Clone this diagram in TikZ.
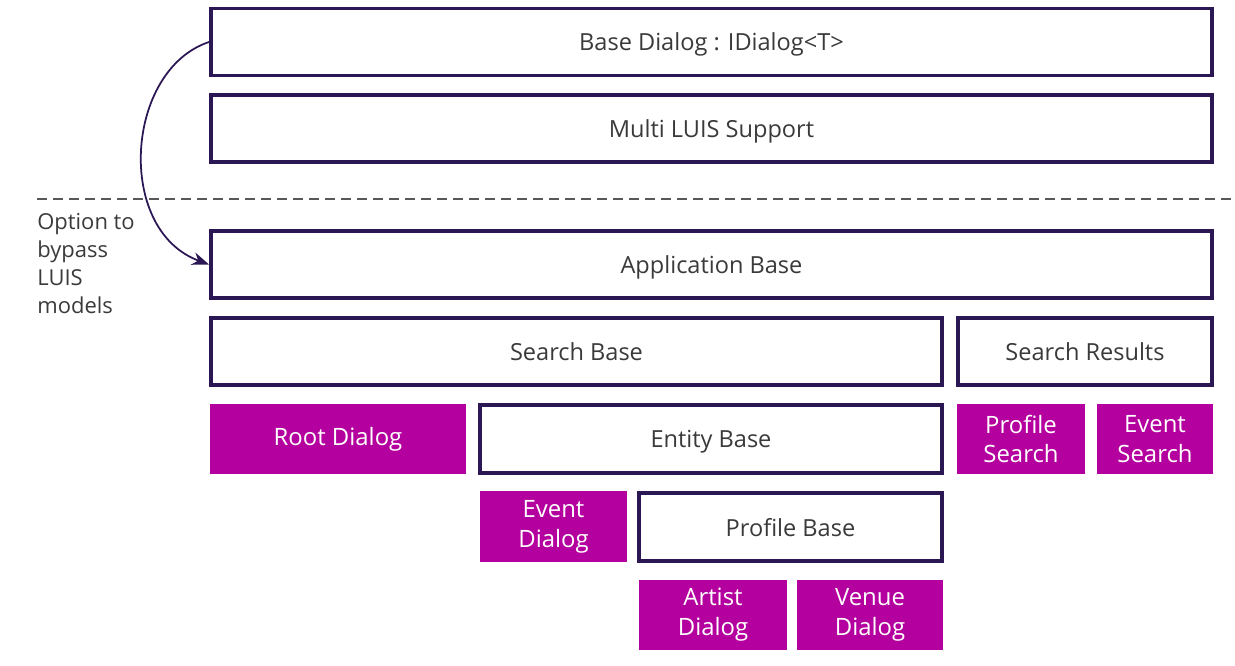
\documentclass[tikz,border=0pt]{standalone}
\usepackage{fontspec}
\setmainfont{Open Sans}
\usepackage{tikz}
\usetikzlibrary{arrows.meta}
\definecolor{layerline}{HTML}{2B1754}
\definecolor{dialogfill}{HTML}{B4009E}
\definecolor{labeltext}{HTML}{3A3A3A}

\begin{document}
\begin{tikzpicture}[
    layer/.style={rectangle, draw=layerline, line width=2.2pt, fill=white, text=labeltext, font=\fontsize{13.4}{16}\selectfont, text depth=0pt, minimum height=1.34cm, inner sep=0pt},
    dialog/.style={rectangle, fill=dialogfill, text=white, font=\fontsize{13.6}{17}\selectfont, align=center, minimum height=1.4cm, inner sep=0pt},
    divider/.style={dash pattern=on 0.2cm off 0.12cm, line width=1.1pt, draw=labeltext!85},
    bypass/.style={line width=1pt, draw=layerline, -{Stealth[length=3.4mm, width=2.6mm]}},
    note/.style={text=labeltext, font=\fontsize{12.5}{15.9}\selectfont, align=left, anchor=north west, inner sep=0pt}
]
\useasboundingbox (0,0) rectangle (24.7,-13.32);

% Draw the base layers
\node[layer, minimum width=20.02cm] (base) at (14.23,-0.84) {Base Dialog : IDialog<T>};
\node[layer, minimum width=20.02cm] (luis) at (14.23,-2.57) {Multi LUIS Support};

% Draw the dashed divider
\coordinate (dashL) at (0.74,-3.98);
\coordinate (dashR) at (24.7,-3.98);
\draw[divider] (dashL) -- (dashR);

% Draw the application layers
\node[layer, minimum width=20.02cm] (app) at (14.23,-5.29) {Application Base};
\node[layer, minimum width=14.62cm] (search) at (11.53,-7.03) {Search Base};
\node[layer, minimum width=5.08cm] (results) at (21.70,-7.03) {Search Results};
\node[layer, minimum width=9.24cm, minimum height=1.36cm] (entity) at (14.22,-8.78) {Entity Base};
\node[layer, minimum width=6.06cm, minimum height=1.36cm] (profile) at (15.81,-10.54) {Profile Base};

% Draw the dialogs
\node[dialog, minimum width=5.12cm] (root) at (6.76,-8.78) {Root Dialog};
\node[dialog, minimum width=2.56cm] (profsearch) at (20.42,-8.78) {Profile\\Search};
\node[dialog, minimum width=2.32cm] (eventsearch) at (23.10,-8.78) {Event\\Search};
\node[dialog, minimum width=2.94cm, minimum height=1.42cm] (eventdlg) at (11.07,-10.53) {Event\\Dialog};
\node[dialog, minimum width=2.96cm] (artist) at (14.26,-12.30) {Artist\\Dialog};
\node[dialog, minimum width=2.92cm] (venue) at (17.40,-12.30) {Venue\\Dialog};

% Add the bypass arrow
\draw[bypass] (base.west) .. controls (2.5,-1.4) and (2.3,-4.6) .. (app.west);
\node[note] (bypassnote) at (0.74,-4.26) {Option to\\bypass\\LUIS\\models};

\end{tikzpicture}
\end{document}
